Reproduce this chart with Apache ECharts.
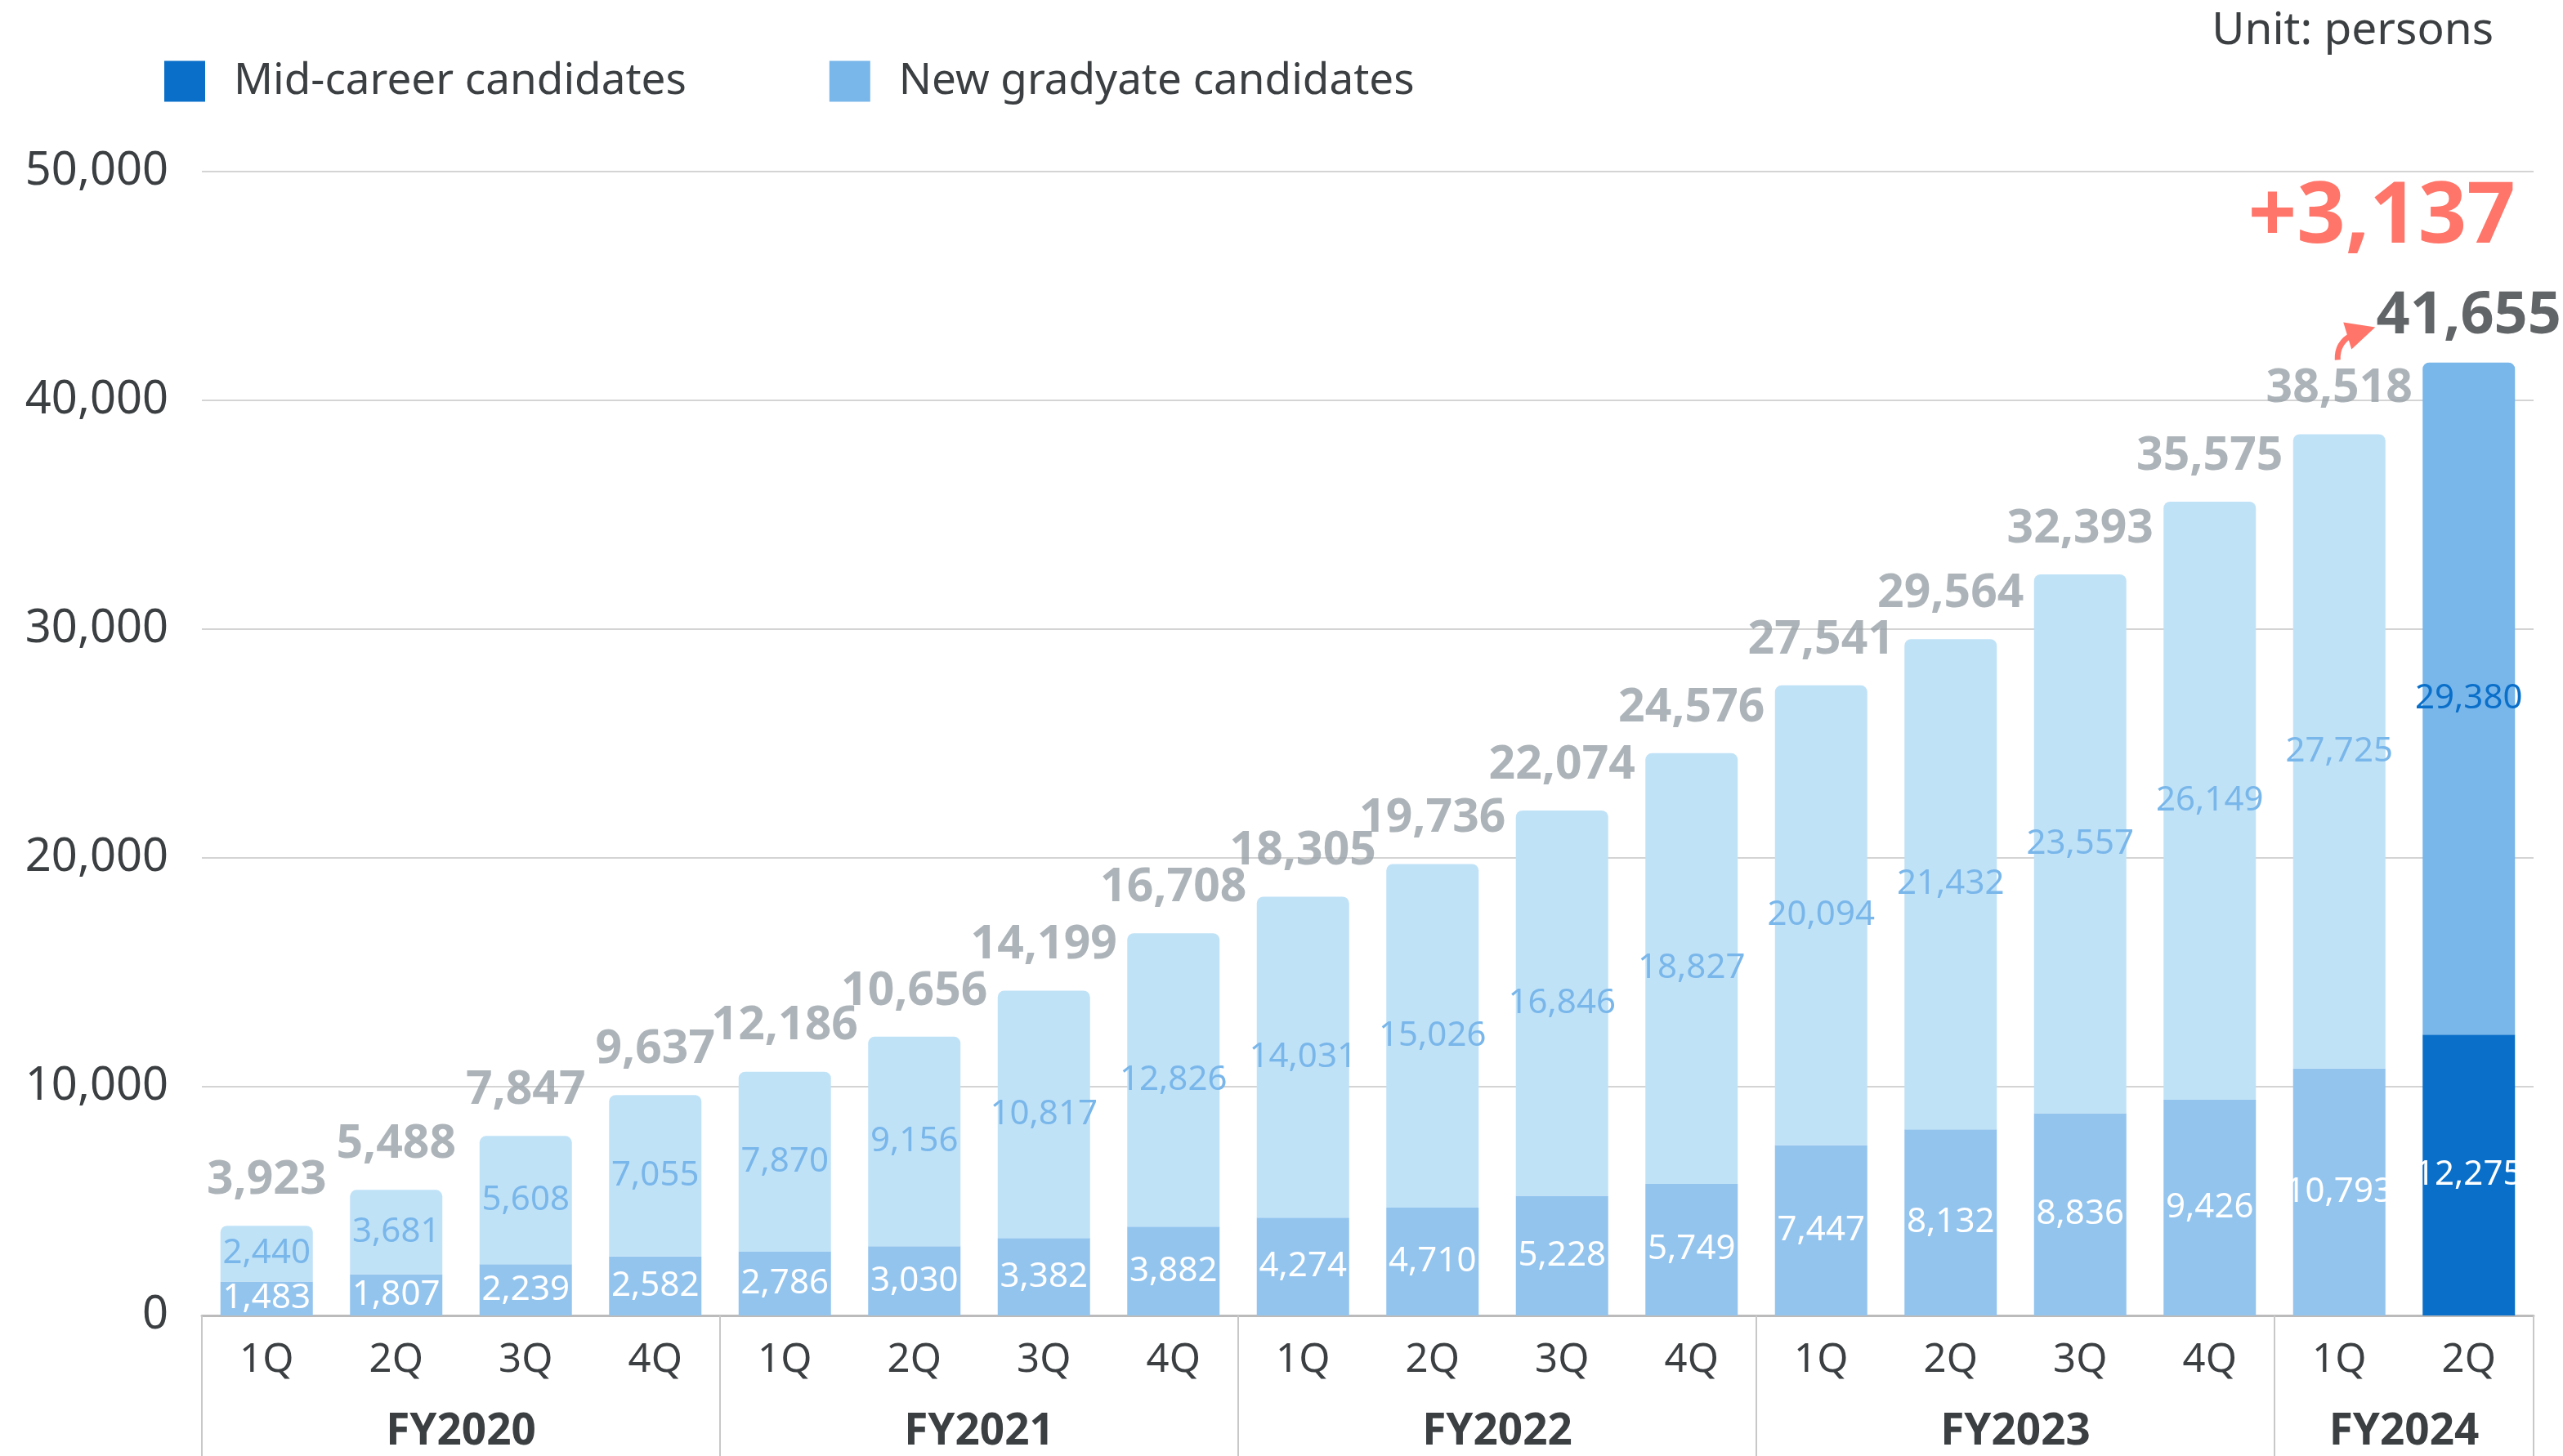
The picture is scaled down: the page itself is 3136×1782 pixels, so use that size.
<!DOCTYPE html>
<html>
<head>
<meta charset="utf-8">
<script src="https://cdn.jsdelivr.net/npm/echarts@6/dist/echarts.min.js"></script>
<style>
  html, body { margin: 0; padding: 0; background: #fff; }
  #chart { width: 3136px; height: 1782px; }
</style>
</head>
<body>
<div id="chart"></div>
<script>
const quarters = ['1Q', '2Q', '3Q', '4Q', '1Q', '2Q', '3Q', '4Q', '1Q', '2Q', '3Q', '4Q',
  '1Q', '2Q', '3Q', '4Q', '1Q', '2Q'];
const fiscalYears = ['FY2020', 'FY2021', 'FY2022', 'FY2023', 'FY2024'];
const yearQuarterCount = [4, 4, 4, 4, 2];

const midCareer = [1483, 1807, 2239, 2582, 2786, 3030, 3382, 3882, 4274, 4710, 5228, 5749,
  7447, 8132, 8836, 9426, 10793, 12275];
const newGrad = [2440, 3681, 5608, 7055, 7870, 9156, 10817, 12826, 14031, 15026, 16846, 18827,
  20094, 21432, 23557, 26149, 27725, 29380];
// totals as printed above the bars
const totalLabels = [3923, 5488, 7847, 9637, 12186, 10656, 14199, 16708, 18305, 19736, 22074, 24576,
  27541, 29564, 32393, 35575, 38518, 41655];

const FONT = 'Noto Sans';
const TEXT = '#3b3f42';
const GREY = '#99a1a8';
const RED = '#ff7569';
const DARK = '#0a6fc9';
const MID = '#79b6ea';
const MID_LIGHT = '#93c4ee';
const LIGHT = '#c0e2f7';

const fmt = v => v.toLocaleString('en-US');
const last = quarters.length - 1;

// year label sits in the middle of its group of quarters
const yearCenters = {};
const yearStarts = [];
let start = 0;
fiscalYears.forEach((fy, i) => {
  yearStarts.push(start);
  yearCenters[start + yearQuarterCount[i] / 2] = fy;
  start += yearQuarterCount[i];
});

const chart = echarts.init(document.getElementById('chart'));

const option = {
  animation: false,
  textStyle: { fontFamily: FONT },
  title: {
    text: 'Unit: persons',
    right: 80,
    top: 6,
    textStyle: { fontSize: 55, fontWeight: 'normal', color: TEXT, fontFamily: FONT }
  },
  legend: {
    left: 196,
    top: 68,
    icon: 'rect',
    itemWidth: 50,
    itemHeight: 50,
    itemGap: 175,
    data: ['Mid-career candidates', 'New gradyate candidates'],
    textStyle: { fontSize: 53, color: TEXT, fontFamily: FONT, padding: [0, 0, 0, 30] }
  },
  grid: { left: 247, right: 36, top: 210, bottom: 172, outerBoundsMode: 'none' },
  xAxis: [
    {
      type: 'category',
      data: quarters,
      axisLine: { lineStyle: { color: '#bbbbbb', width: 3 } },
      axisTick: {
        show: true,
        interval: i => yearStarts.includes(i),
        length: 172,
        lineStyle: { color: '#c8c8c8', width: 2 }
      },
      axisLabel: { fontSize: 49, color: TEXT, margin: 31, fontFamily: FONT }
    },
    {
      type: 'value',
      position: 'bottom',
      min: 0,
      max: quarters.length,
      interval: 1,
      axisLine: { show: false },
      axisTick: { show: false },
      splitLine: { show: false },
      axisLabel: {
        margin: 116,
        fontSize: 53,
        fontWeight: 'bold',
        color: TEXT,
        fontFamily: FONT,
        formatter: v => yearCenters[v] || ''
      }
    }
  ],
  yAxis: {
    type: 'value',
    min: 0,
    max: 50000,
    interval: 10000,
    axisLine: { show: false },
    axisTick: { show: false },
    splitLine: { lineStyle: { color: '#d4d4d4', width: 2 } },
    axisLabel: { fontSize: 56, color: TEXT, margin: 41, fontFamily: FONT, formatter: v => fmt(v) }
  },
  series: [
    {
      name: 'Mid-career candidates',
      type: 'bar',
      stack: 'total',
      barWidth: 113,
      itemStyle: { color: DARK },
      label: {
        show: true,
        position: 'inside',
        color: '#fff',
        fontSize: 42,
        fontFamily: FONT,
        formatter: p => fmt(p.value)
      },
      data: midCareer.map((v, i) => i === last ? v : { value: v, itemStyle: { color: MID_LIGHT } })
    },
    {
      name: 'New gradyate candidates',
      type: 'bar',
      stack: 'total',
      barWidth: 113,
      itemStyle: { color: MID, borderRadius: [8, 8, 0, 0] },
      label: {
        show: true,
        position: 'inside',
        color: MID,
        fontSize: 42,
        fontFamily: FONT,
        formatter: p => fmt(p.value)
      },
      data: newGrad.map((v, i) => i === last
        ? { value: v, label: { color: DARK } }
        : { value: v, itemStyle: { color: LIGHT } })
    },
    {
      name: 'total',
      type: 'scatter',
      symbolSize: 0,
      silent: true,
      z: 5,
      label: {
        show: true,
        position: 'top',
        distance: 27,
        color: GREY,
        fontSize: 57,
        fontWeight: 'bold',
        fontFamily: FONT,
        formatter: p => fmt(totalLabels[p.dataIndex])
      },
      data: midCareer.map((v, i) => {
        const sum = v + newGrad[i];
        return i === last
          ? { value: sum, label: { color: TEXT, fontSize: 72, distance: 20 } }
          : sum;
      })
    }
  ]
};

chart.setOption(option);

// annotation: growth from the previous quarter
const prevIdx = last - 1;
const prevTop = chart.convertToPixel({ seriesIndex: 0 }, [prevIdx, midCareer[prevIdx] + newGrad[prevIdx]]);
const lastTop = chart.convertToPixel({ seriesIndex: 0 }, [last, midCareer[last] + newGrad[last]]);
const diff = totalLabels[last] - totalLabels[prevIdx];

chart.setOption({
  graphic: [
    {
      type: 'bezierCurve',
      x: prevTop[0],
      y: prevTop[1],
      shape: { x1: -2, y1: -91, cpx1: -3, cpy1: -112, x2: 16, y2: -122 },
      style: { fill: null, stroke: RED, lineWidth: 7 }
    },
    {
      type: 'polygon',
      x: prevTop[0],
      y: prevTop[1],
      shape: { points: [[5, -137], [44, -131], [15, -104]] },
      style: { fill: RED }
    },
    {
      type: 'text',
      x: lastTop[0] + 57,
      y: lastTop[1] - 176,
      style: {
        text: '+' + fmt(diff),
        fill: RED,
        fontSize: 104,
        fontWeight: 'bold',
        fontFamily: FONT,
        align: 'right',
        verticalAlign: 'middle'
      }
    }
  ]
});
</script>
</body>
</html>
